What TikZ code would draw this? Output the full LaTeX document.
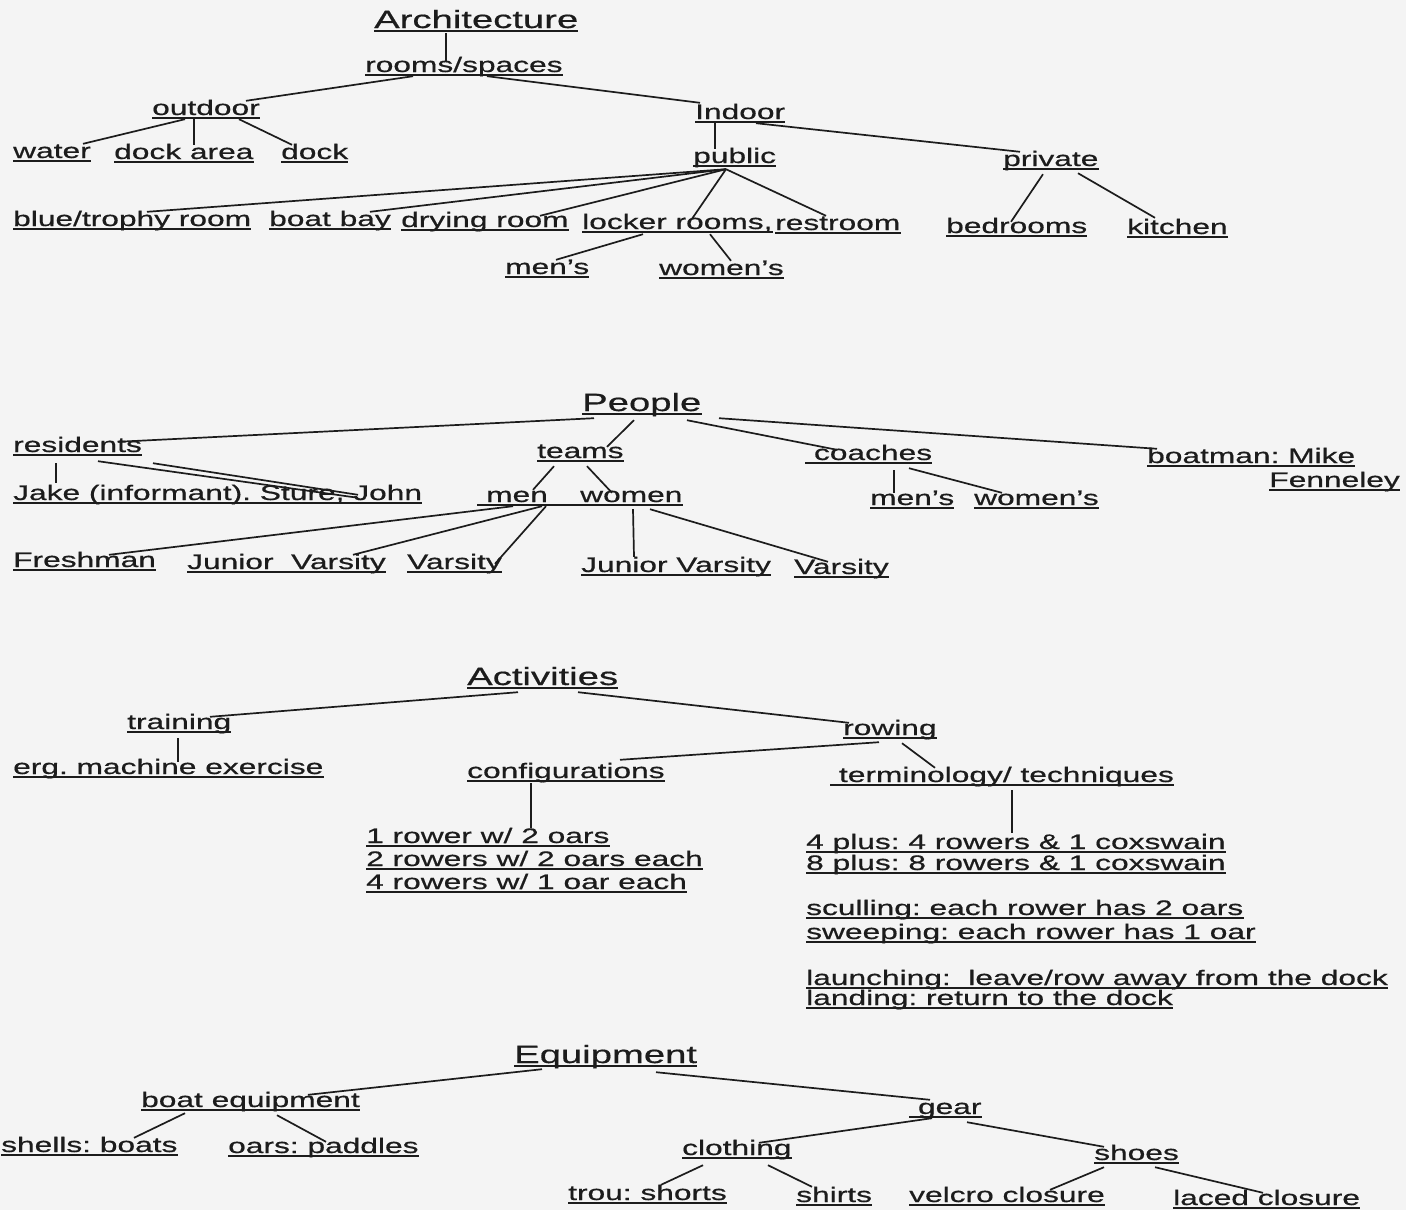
\documentclass[tikz,border=0pt]{standalone}
\usepackage{fontspec}
\setmainfont{Liberation Sans}[FakeStretch=1.51,FakeBold=0.6]
\newfontfamily\hdfont{Liberation Sans}[FakeStretch=1.53,FakeBold=0.6]
\frenchspacing
\definecolor{ink}{RGB}{28,28,28}
\definecolor{paper}{RGB}{244,244,244}
\tikzset{
  lb/.style={anchor=base west, inner sep=0pt, text height=14pt, text depth=4pt,
             font=\fontsize{21}{24}\selectfont, text=ink},
  hd/.style={lb, font=\hdfont\fontsize{25}{28}\selectfont, text height=17pt, text depth=5pt},
  ln/.style={draw=ink, line width=1.7pt},
  ul/.style={draw=ink, line width=1.6pt}
}
\begin{document}
\frenchspacing
\begin{tikzpicture}[x=1pt,y=-1pt]
\fill[paper] (0,0) rectangle (1406,1210);
\useasboundingbox (0,0) rectangle (1406,1210);

% ---------------- Architecture ----------------
\node[hd] (arch) at (374,28) {Architecture};
\node[lb] (rooms) at (365,72) {rooms/spaces};
\node[lb] (outdoor) at (152,115) {outdoor};
\node[lb] (indoor) at (695,119) {Indoor};
\node[lb] (water) at (13,158) {water};
\node[lb] (dockarea) at (114,159) {dock area};
\node[lb] (dock) at (281,159) {dock~};
\node[lb] (public) at (693,163) {public};
\node[lb] (private) at (1003,166) {private};
\node[lb] (blue) at (13,226) {blue/trophy room};
\node[lb] (boatbay) at (269,226) {boat bay};
\node[lb] (drying) at (401,227) {drying room};
\node[lb] (locker) at (582,229) {locker rooms,};
\node[lb] (restroom) at (775,230) {restroom};
\node[lb] (bedrooms) at (946,233) {bedrooms};
\node[lb] (kitchen) at (1127,234) {kitchen};
\node[lb] (amens) at (505,274) {men’s};
\node[lb] (awomens) at (659,275) {women’s};

\draw[ln] ([xshift=72pt]arch.south west) -- ([xshift=81pt,yshift=-4pt]rooms.north west);
\draw[ln] ([xshift=48pt]rooms.south west) -- ([xshift=94pt]outdoor.north west);
\draw[ln] ([xshift=122pt]rooms.south west) -- ([xshift=5pt,yshift=2pt]indoor.north west);
\draw[ln] ([xshift=33pt]outdoor.south west) -- ([xshift=70pt]water.north west);
\draw[ln] ([xshift=42pt]outdoor.south west) -- ([xshift=80pt]dockarea.north west);
\draw[ln] ([xshift=87pt]outdoor.south west) -- ([xshift=11pt]dock.north west);
\draw[ln] ([xshift=20pt]indoor.south west) -- ([xshift=22pt]public.north west);
\draw[ln] ([xshift=61pt]indoor.south west) -- ([xshift=17pt]private.north west);
\draw[ln] ([xshift=33pt,yshift=-2pt]public.south west) -- ([xshift=134pt]blue.north west);
\draw[ln] ([xshift=33pt,yshift=-2pt]public.south west) -- ([xshift=101pt]boatbay.north west);
\draw[ln] ([xshift=33pt,yshift=-2pt]public.south west) -- ([xshift=139pt,yshift=-3pt]drying.north west);
\draw[ln] ([xshift=33pt,yshift=-2pt]public.south west) -- ([xshift=110pt,yshift=-4pt]locker.north west);
\draw[ln] ([xshift=33pt,yshift=-2pt]public.south west) -- ([xshift=51pt]restroom.north west);
\draw[ln] ([xshift=61pt,yshift=-1pt]locker.south west) -- ([xshift=51pt]amens.north west);
\draw[ln] ([xshift=128pt,yshift=-1pt]locker.south west) -- ([xshift=72pt]awomens.north west);
\draw[ln] ([xshift=40pt,yshift=-4pt]private.south west) -- ([xshift=65pt,yshift=-3pt]bedrooms.north west);
\draw[ln] ([xshift=75pt,yshift=-3pt]private.south west) -- ([xshift=28pt,yshift=2pt]kitchen.north west);

% ---------------- People ----------------
\node[hd] (people) at (582,411) {People};
\node[lb] (residents) at (13,452) {residents};
\node[lb] (teams) at (537,458) {teams};
\node[lb] (coaches) at (805,460) {~coaches~};
\node[lb] (boatman) at (1147,463) {boatman: Mike};
\node[lb, anchor=base east] (fenneley) at (1400,487) {Fenneley};
\node[lb] (jake) at (13,500) {Jake (informant). Sture, John};
\node[lb] (men) at (486,502) {men};
\node[lb] (women) at (580,502) {women};
\node[lb] (cmens) at (870,505) {men’s};
\node[lb] (cwomens) at (974,505) {women’s};
\node[lb] (fresh) at (13,567) {Freshman};
\node[lb] (jva) at (187,569) {Junior~~Varsity};
\node[lb] (va) at (407,569) {Varsity~};
\node[lb] (jvb) at (581,572) {Junior Varsity};
\node[lb] (vb) at (794,574) {Varsity};

\draw[ln] ([xshift=12pt,yshift=-2pt]people.south west) -- ([xshift=105pt,yshift=-4pt]residents.north west);
\draw[ln] ([xshift=52pt,yshift=-4pt]people.south west) -- ([xshift=70pt,yshift=-3pt]teams.north west);
\draw[ln] ([xshift=105pt,yshift=-4pt]people.south west) -- ([xshift=32pt,yshift=-4pt]coaches.north west);
\draw[ln] ([xshift=137pt,yshift=-2pt]people.south west) -- ([xshift=10pt]boatman.north west);
\draw[ln] ([xshift=43pt,yshift=-7pt]residents.south west) -- ([xshift=43pt,yshift=3pt]jake.north west);
\draw[ln] ([xshift=85pt,yshift=-5pt]residents.south west) -- ([xshift=345pt,yshift=-12pt]jake.north west);
\draw[ln] ([xshift=140pt,yshift=-7pt]residents.south west) -- ([xshift=345pt,yshift=-9pt]jake.north west);
\draw[ln] ([xshift=17pt,yshift=-4pt]teams.south west) -- ([xshift=47pt,yshift=-2pt]men.north west);
\draw[ln] ([xshift=50pt,yshift=-4pt]teams.south west) -- ([xshift=32pt,yshift=-5pt]women.north west);
\draw[ln] ([xshift=27pt]men.south west) -- ([xshift=96pt,yshift=-2pt]fresh.north west);
\draw[ln] ([xshift=56pt]men.south west) -- ([xshift=166pt]jva.north west);
\draw[ln] ([xshift=60pt]men.south west) -- ([xshift=88pt,yshift=-9pt]va.north west);
\draw[ln] ([xshift=53pt,yshift=-3pt]women.south west) -- ([xshift=53pt,yshift=1pt]jvb.north west);
\draw[ln] ([xshift=70pt,yshift=-3pt]women.south west) -- ([xshift=34pt,yshift=-2pt]vb.north west);
\draw[ln] ([xshift=89pt,yshift=-6pt]coaches.south west) -- ([xshift=24pt,yshift=-2pt]cmens.north west);
\draw[ln] ([xshift=104pt,yshift=-4pt]coaches.south west) -- ([xshift=28pt,yshift=-2pt]cwomens.north west);

% ---------------- Activities ----------------
\node[hd] (act) at (467,685) {Activities};
\node[lb] (training) at (127,729) {training};
\node[lb] (rowing) at (843,735) {rowing~};
\node[lb] (erg) at (13,774) {erg. machine exercise};
\node[lb] (config) at (467,778) {configurations};
\node[lb] (term) at (830,782) {~terminology/ techniques};
\node[lb] (ca) at (366,843) {1 rower w/ 2 oars};
\node[lb] (cb) at (366,866) {2 rowers w/ 2 oars each};
\node[lb] (cc) at (366,889) {4 rowers w/ 1 oar each};
\node[lb] (ta) at (806,849) {4 plus: 4 rowers \& 1 coxswain};
\node[lb] (tb) at (806,870) {8 plus: 8 rowers \& 1 coxswain~};
\node[lb] (tc) at (806,915) {sculling: each rower has 2 oars};
\node[lb] (td) at (806,939) {sweeping: each rower has 1 oar};
\node[lb] (te) at (806,985) {launching:~~leave/row away from the dock};
\node[lb] (tf) at (806,1005) {landing: return to the dock};

\draw[ln] ([xshift=51pt,yshift=-2pt]act.south west) -- ([xshift=83pt,yshift=-2pt]training.north west);
\draw[ln] ([xshift=111pt,yshift=-2pt]act.south west) -- ([xshift=6pt,yshift=-2pt]rowing.north west);
\draw[ln] ([xshift=36pt,yshift=-3pt]rowing.south west) -- ([xshift=153pt,yshift=4pt]config.north west);
\draw[ln] ([xshift=59pt,yshift=-4pt]rowing.south west) -- ([xshift=105pt]term.north west);
\draw[ln] ([xshift=51pt,yshift=-5pt]training.south west) -- ([xshift=165pt,yshift=-2pt]erg.north west);
\draw[ln] ([xshift=64pt,yshift=-1pt]config.south west) -- ([xshift=165pt,yshift=1pt]ca.north west);
\draw[ln] ([xshift=182pt,yshift=-4pt]term.south west) -- ([xshift=206pt,yshift=2pt]ta.north west);

% ---------------- Equipment ----------------
\node[hd] (equip) at (514,1063) {Equipment};
\node[lb] (boateq) at (141,1107) {boat equipment};
\node[lb] (gear) at (909,1114) {~gear};
\node[lb] (shells) at (1,1152) {shells: boats};
\node[lb] (oars) at (228,1153) {oars: paddles};
\node[lb] (clothing) at (682,1155) {clothing};
\node[lb] (shoes) at (1094,1160) {shoes};
\node[lb] (trou) at (568,1200) {trou: shorts~};
\node[lb] (shirts) at (796,1202) {shirts};
\node[lb] (velcro) at (909,1202) {velcro closure~};
\node[lb] (laced) at (1173,1205) {laced closure~};

\draw[ln] ([xshift=28pt,yshift=-1pt]equip.south west) -- ([xshift=167pt,yshift=-2pt]boateq.north west);
\draw[ln] ([xshift=142pt,yshift=-4pt]equip.south west) -- ([xshift=21pt]gear.north west);
\draw[ln] ([xshift=44pt,yshift=-2pt]boateq.south west) -- ([xshift=133pt]shells.north west);
\draw[ln] ([xshift=136pt,yshift=-4pt]boateq.south west) -- ([xshift=98pt,yshift=-3pt]oars.north west);
\draw[ln] ([xshift=23pt]gear.south west) -- ([xshift=77pt,yshift=-2pt]clothing.north west);
\draw[ln] ([xshift=58pt,yshift=-4pt]gear.south west) -- ([xshift=10pt,yshift=-1pt]shoes.north west);
\draw[ln] ([xshift=21pt,yshift=-6pt]clothing.south west) -- ([xshift=93pt,yshift=1pt]trou.north west);
\draw[ln] ([xshift=86pt,yshift=-6pt]clothing.south west) -- ([xshift=16pt,yshift=1pt]shirts.north west);
\draw[ln] ([xshift=10pt,yshift=-3pt]shoes.south west) -- ([xshift=141pt,yshift=-2pt]velcro.north west);
\draw[ln] ([xshift=61pt,yshift=-3pt]shoes.south west) -- ([xshift=90pt,yshift=-2pt]laced.north west);

% ---------------- underlines ----------------
\foreach \n in {arch,rooms,outdoor,indoor,water,dockarea,dock,public,private,blue,boatbay,drying,locker,restroom,bedrooms,kitchen,amens,awomens,
  people,residents,teams,coaches,boatman,fenneley,jake,cmens,cwomens,fresh,jva,va,jvb,vb,
  act,training,rowing,erg,config,term,ca,cb,cc,ta,tb,tc,td,te,tf,
  equip,boateq,gear,shells,oars,clothing,shoes,trou,shirts,velcro,laced}
  \draw[ul] ([yshift=-3pt]\n.base west) -- ([yshift=-3pt]\n.base east);
\draw[ul] ([xshift=-9pt,yshift=-3pt]men.base west) -- ([yshift=-3pt]women.base east);
\end{tikzpicture}
\end{document}
